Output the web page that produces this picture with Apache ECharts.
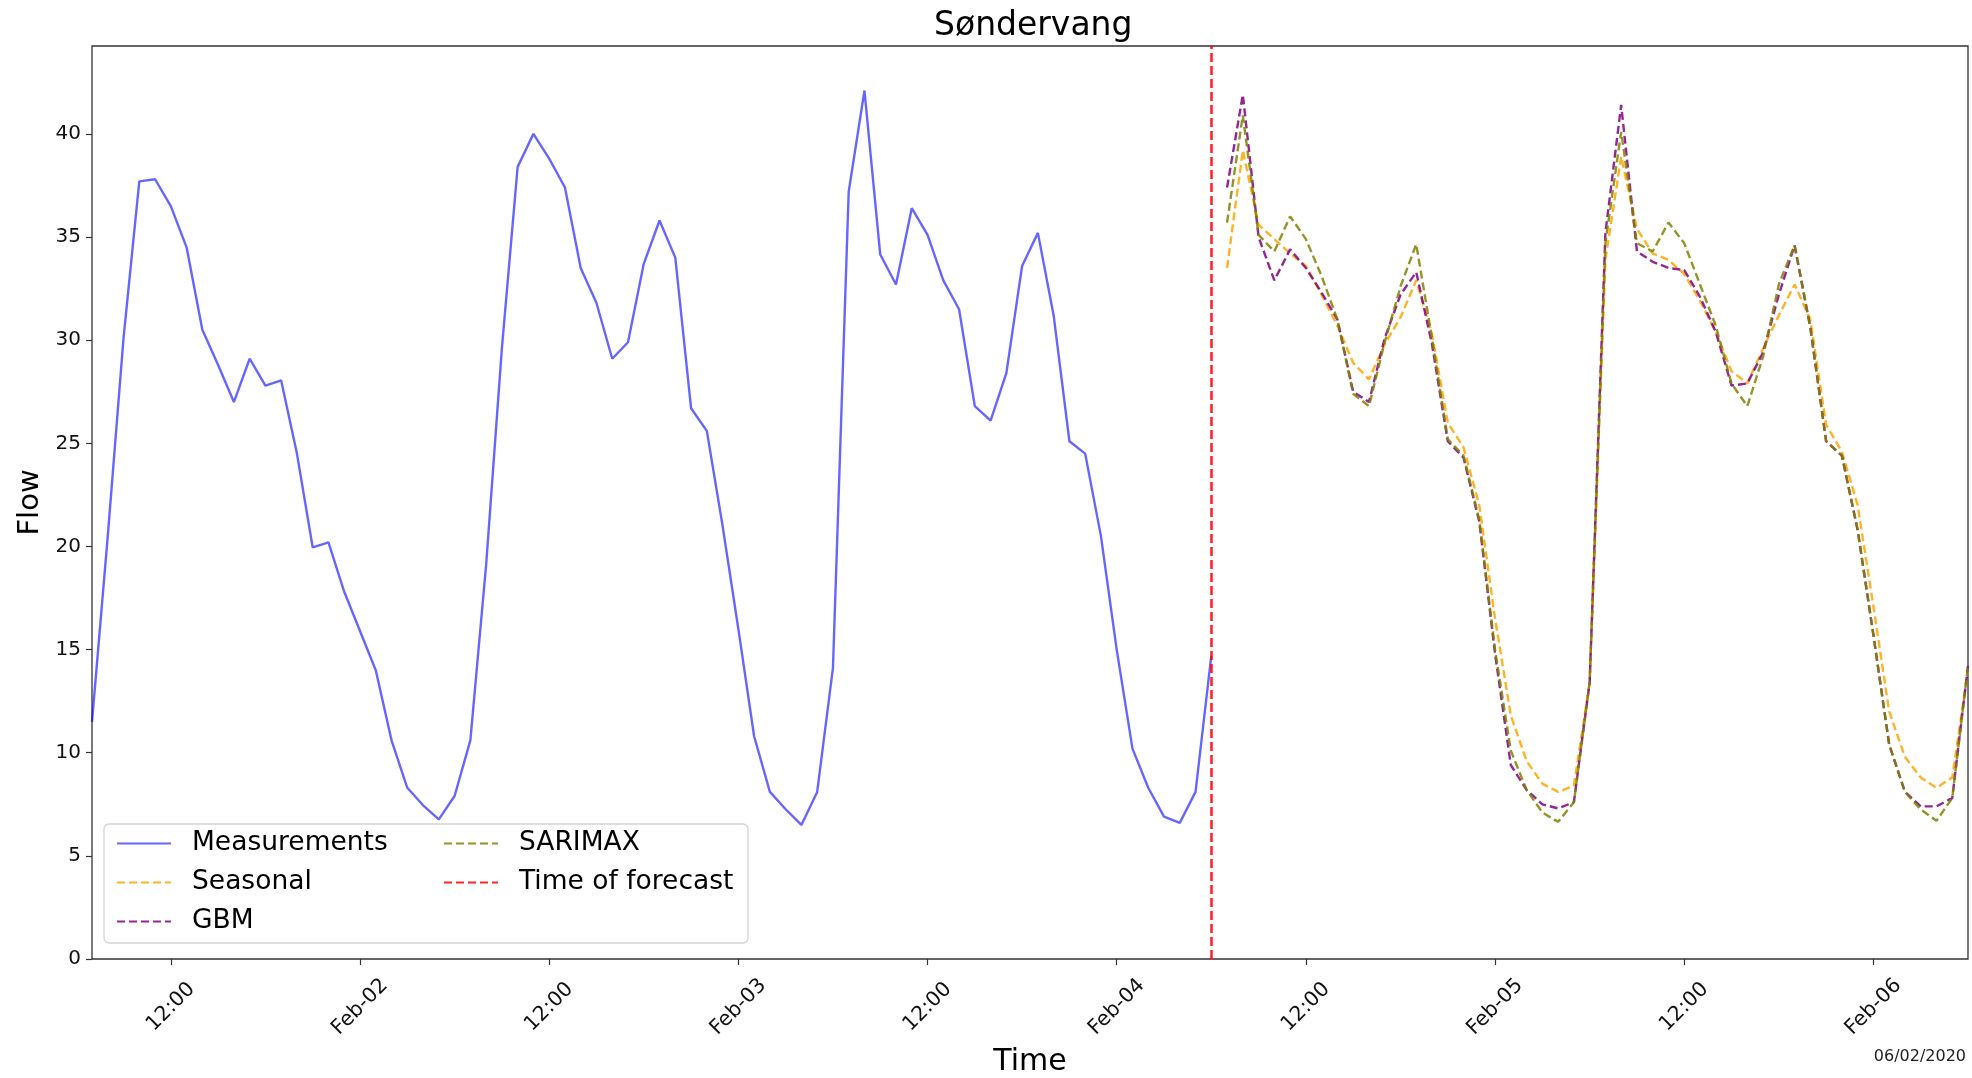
<!DOCTYPE html>
<html>
<head>
<meta charset="utf-8">
<script src="https://cdn.jsdelivr.net/npm/echarts@6/dist/echarts.min.js"></script>
<style>
html,body{margin:0;padding:0;background:#fff;}
#chart{width:1972px;height:1078px;}
</style>
</head>
<body>
<div id="chart"></div>
<script>
// Hours are counted from 2020-02-01 00:00
const axisStartHour = 7;      // Feb-01 07:00
const axisEndHour = 126;      // Feb-06 06:00
const measurementStartHour = 7;   // Feb-01 07:00, hourly
const forecastStartHour = 79;     // Feb-04 07:00, hourly
const forecastTimeHour = 78;      // Feb-04 06:00

const xTickHours = [12, 24, 36, 48, 60, 72, 84, 96, 108, 120];
const xTickLabels = ['12:00', 'Feb-02', '12:00', 'Feb-03', '12:00', 'Feb-04', '12:00', 'Feb-05', '12:00', 'Feb-06'];
const yTickValues = [0, 5, 10, 15, 20, 25, 30, 35, 40];

const measurements = [
  11.5, 20.5, 30.1, 37.7, 37.8, 36.5, 34.5, 30.5, 28.8, 27.0, 29.1, 27.8, 28.05, 24.5, 19.95, 20.2, 17.8, 15.9, 14.0, 10.6, 8.3, 7.45, 6.77, 7.9,
  10.6, 19.1, 29.6, 38.4, 40.0, 38.8, 37.4, 33.5, 31.8, 29.1, 29.9, 33.7, 35.8, 34.0, 26.7, 25.6, 21.0, 16.0, 10.8, 8.1, 7.26, 6.5, 8.1, 14.1,
  37.2, 42.1, 34.15, 32.7, 36.4, 35.1, 32.9, 31.5, 26.8, 26.1, 28.4, 33.6, 35.2, 31.2, 25.1, 24.5, 20.5, 15.0, 10.2, 8.3, 6.9, 6.6, 8.1, 14.7
];

const seasonal = [
  33.5, 39.2, 35.6, 34.9, 34.2, 33.6, 32.2, 30.7, 28.9, 28.1, 29.8, 31.1, 32.9, 30.3, 26.0, 24.8, 22.0, 16.5, 11.8, 9.6, 8.5, 8.1, 8.4, 13.4,
  33.9, 38.9, 35.4, 34.2, 33.9, 33.2, 31.9, 30.4, 28.5, 27.9, 29.6, 31.2, 32.7, 31.0, 25.9, 24.6, 22.0, 17.1, 12.0, 9.8, 8.8, 8.3, 8.8, 14.0
];

const gbm = [
  37.4, 41.9, 35.0, 32.9, 34.4, 33.5, 32.3, 31.0, 27.5, 27.0, 30.1, 32.2, 33.3, 29.8, 25.1, 24.3, 21.2, 14.8, 9.4, 8.2, 7.5, 7.3, 7.6, 13.4,
  35.2, 41.4, 34.3, 33.8, 33.5, 33.4, 32.1, 30.4, 27.8, 27.9, 29.4, 32.2, 34.6, 30.6, 25.1, 24.4, 20.8, 15.7, 10.4, 8.1, 7.4, 7.4, 7.8, 14.2
];

const sarimax = [
  35.7, 40.9, 35.1, 34.3, 36.0, 34.9, 33.1, 31.0, 27.4, 26.8, 29.9, 32.6, 34.65, 30.1, 25.2, 24.4, 21.3, 15.0, 10.1, 8.2, 7.1, 6.65, 7.6, 13.4,
  34.7, 40.1, 34.7, 34.3, 35.7, 34.7, 32.7, 30.7, 27.9, 26.8, 29.2, 32.7, 34.6, 30.6, 25.1, 24.4, 20.8, 15.7, 10.4, 8.1, 7.25, 6.7, 7.8, 14.2
];

function hourly(values, startHour) {
  return values.map((v, i) => [startHour + i, v]);
}

const FONT = 'DejaVu Sans';
const chart = echarts.init(document.getElementById('chart'), null, {renderer: 'canvas'});

const dashed = [8, 4];

const legendCommon = {
  orient: 'vertical',
  top: 830,
  padding: 0,
  itemWidth: 54, itemHeight: 14, itemGap: 12,
  z: 20,
  itemStyle: {opacity: 0},
  textStyle: {fontFamily: FONT, fontSize: 26.5, color: '#000', lineHeight: 26, padding: [0, 0, 0, 16]},
  selectedMode: false
};

const option = {
  animation: false,
  backgroundColor: '#ffffff',
  title: {
    text: 'Søndervang',
    left: 929,
    top: 5,
    textStyle: {fontFamily: FONT, fontSize: 33, fontWeight: 'normal', color: '#000'}
  },
  grid: {
    left: 92, top: 46, right: 4, bottom: 119,
    containLabel: false,
    outerBoundsMode: 'none',
    show: true, borderColor: '#333', borderWidth: 1.3, backgroundColor: 'transparent'
  },
  xAxis: {
    type: 'value',
    min: axisStartHour,
    max: axisEndHour,
    name: 'Time',
    nameLocation: 'middle',
    nameGap: 88,
    nameTextStyle: {fontFamily: FONT, fontSize: 30, color: '#000'},
    axisLine: {show: false},
    splitLine: {show: false},
    axisTick: {show: true, inside: false, length: 6, lineStyle: {color: '#333', width: 1.2}, customValues: xTickHours},
    axisLabel: {
      customValues: xTickHours,
      rotate: 45,
      align: 'center',
      verticalAlign: 'middle',
      margin: 48,
      fontFamily: FONT, fontSize: 20.5, color: '#111',
      formatter: function (v) {
        const i = xTickHours.indexOf(v);
        return i >= 0 ? xTickLabels[i] : '';
      }
    }
  },
  yAxis: {
    type: 'value',
    min: 0,
    max: 44.26,
    name: 'Flow',
    nameLocation: 'middle',
    nameRotate: 90,
    nameGap: 41,
    nameTextStyle: {fontFamily: FONT, fontSize: 29, color: '#000'},
    axisLine: {show: false},
    splitLine: {show: false},
    axisTick: {show: true, inside: false, length: 6, lineStyle: {color: '#333', width: 1.2}, customValues: yTickValues},
    axisLabel: {customValues: yTickValues, margin: 11, fontFamily: FONT, fontSize: 20, color: '#111'}
  },
  legend: [
    Object.assign({}, legendCommon, {data: ['Measurements', 'Seasonal', 'GBM'], left: 116}),
    Object.assign({}, legendCommon, {data: ['SARIMAX', 'Time of forecast'], left: 443})
  ],
  graphic: [
    {
      type: 'rect', z: 10,
      shape: {x: 104, y: 824, width: 644, height: 119, r: 5},
      style: {fill: 'rgba(255,255,255,0.85)', stroke: '#d4d4d4', lineWidth: 1.3}
    },
    {
      type: 'text', z: 10,
      right: 6, top: 1049,
      style: {text: '06/02/2020', font: '16px "DejaVu Sans"', fill: '#222'}
    }
  ],
  series: [
    {
      name: 'Measurements', type: 'line', symbol: 'none', z: 2,
      data: hourly(measurements, measurementStartHour),
      lineStyle: {color: 'rgba(0,0,255,0.6)', width: 2.4},
      itemStyle: {color: 'rgba(0,0,255,0.6)'}
    },
    {
      name: 'Seasonal', type: 'line', symbol: 'none', z: 3,
      data: hourly(seasonal, forecastStartHour),
      lineStyle: {color: 'rgba(255,165,0,0.85)', width: 2.4, type: dashed},
      itemStyle: {color: 'rgba(255,165,0,0.85)'}
    },
    {
      name: 'GBM', type: 'line', symbol: 'none', z: 4,
      data: hourly(gbm, forecastStartHour),
      lineStyle: {color: 'rgba(128,0,128,0.85)', width: 2.4, type: dashed},
      itemStyle: {color: 'rgba(128,0,128,0.85)'}
    },
    {
      name: 'SARIMAX', type: 'line', symbol: 'none', z: 5,
      data: hourly(sarimax, forecastStartHour),
      lineStyle: {color: 'rgba(128,128,0,0.85)', width: 2.4, type: dashed},
      itemStyle: {color: 'rgba(128,128,0,0.85)'}
    },
    {
      name: 'Time of forecast', type: 'line', symbol: 'none', z: 6,
      data: [],
      lineStyle: {color: 'rgba(255,0,0,0.85)', width: 2.4, type: dashed},
      itemStyle: {color: 'rgba(255,0,0,0.85)'},
      markLine: {
        symbol: 'none', silent: true,
        label: {show: false},
        lineStyle: {color: 'rgba(255,0,0,0.85)', width: 2.6, type: [9, 4]},
        data: [{xAxis: forecastTimeHour}]
      }
    }
  ]
};

chart.setOption(option);
</script>
</body>
</html>
